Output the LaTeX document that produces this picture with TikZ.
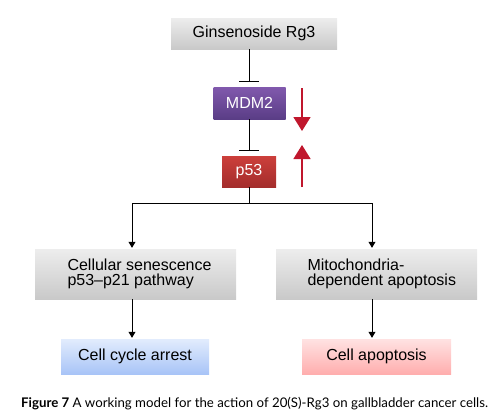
\documentclass[tikz,border=0pt]{standalone}
\usepackage{fontspec}
\setmainfont{Liberation Sans}
\newfontfamily\capfont{Lato}
\usetikzlibrary{arrows.meta}

\definecolor{graytop}{HTML}{EDEDED}
\definecolor{graybot}{HTML}{C9C9C9}
\definecolor{purpletop}{HTML}{8159AD}
\definecolor{purplebot}{HTML}{5A3D86}
\definecolor{redtop}{HTML}{CC3F3B}
\definecolor{redbot}{HTML}{A42D2C}
\definecolor{bluetop}{HTML}{E2ECFD}
\definecolor{bluebot}{HTML}{A8C4F7}
\definecolor{pinktop}{HTML}{FFE2E2}
\definecolor{pinkbot}{HTML}{FFAEAE}
\definecolor{trendred}{HTML}{C0172D}

\tikzset{
    pathway box/.style={
        inner sep=0pt,
        font=\fontsize{16}{15.5}\selectfont
    },
    gray box/.style={pathway box,top color=graytop,bottom color=graybot},
    purple box/.style={pathway box,top color=purpletop,bottom color=purplebot,text=white},
    red box/.style={pathway box,top color=redtop,bottom color=redbot,text=white},
    blue box/.style={pathway box,top color=bluetop,bottom color=bluebot},
    pink box/.style={pathway box,top color=pinktop,bottom color=pinkbot},
    link/.style={line width=.8pt},
    inhibit/.style={link,-{Bar[width=20pt,line width=.8pt]}},
    leads to/.style={link,-{Triangle[width=7pt,length=6pt]}},
    trend/.style={trendred,line width=1.5pt,-{Triangle[width=17pt,length=14pt]}}
}

\begin{document}
\begin{tikzpicture}[x=1pt,y=-1pt]
    \useasboundingbox (0,0) rectangle (494,413);
    % pathway boxes
    \node[gray box,minimum width=166pt,minimum height=31pt] (rg3) at (254,33.5) {Ginsenoside Rg3};
    \node[purple box,minimum width=72pt,minimum height=32pt] (mdm2) at (249.5,103) {MDM2};
    \node[red box,minimum width=54pt,minimum height=31pt] (p53) at (249,171.5) {p53};
    \node[gray box,minimum width=201pt,minimum height=50pt] (senes) at (135.5,274) {};
    \node[gray box,minimum width=201pt,minimum height=50pt] (mito) at (376.5,274) {};
    \node[pathway box,anchor=west,align=left] (senes text) at ([xshift=32.5pt]senes.west) {Cellular senescence\\p53--p21 pathway};
    \node[pathway box,anchor=west,align=left] (mito text) at ([xshift=31.5pt]mito.west) {Mitochondria-\\dependent apoptosis};
    \node[blue box,minimum width=148pt,minimum height=35pt] (arrest) at (135,356.5) {Cell cycle arrest};
    \node[pink box,minimum width=149pt,minimum height=35pt] (apop) at (376.5,356.5) {Cell apoptosis};

    % inhibition
    \draw[inhibit] (rg3.south -| p53) -- ([yshift=5pt]mdm2.north -| p53);
    \draw[inhibit] (mdm2.south -| p53) -- ([yshift=5pt]p53.north);

    % up / down
    \coordinate (down from) at (302,88);
    \coordinate (down to) at (302,131);
    \coordinate (up from) at (302,187);
    \coordinate (up to) at (302,145);
    \draw[trend] (down from) -- (down to);
    \draw[trend] (up from) -- (up to);

    % branches
    \coordinate (split) at (249,203);
    \coordinate (split left) at (132,203);
    \coordinate (split right) at (372,203);
    \draw[link] (p53.south) -- (split);
    \foreach \side in {left,right}
        \draw[leads to] (split) -| ([yshift=1pt]split \side |- senes.north);
    \draw[leads to] (split left |- senes.south) -- ([yshift=1pt]split left |- arrest.north);
    \draw[leads to] (split right |- mito.south) -- ([yshift=1pt]split right |- apop.north);

    % caption
    \node[anchor=base west,inner sep=0pt,font=\capfont\fontsize{13.25}{15}\selectfont] (caption) at (21,407)
        {\textbf{Figure 7} A working model for the action of 20(S)-Rg3 on gallbladder cancer cells.};
\end{tikzpicture}
\end{document}
